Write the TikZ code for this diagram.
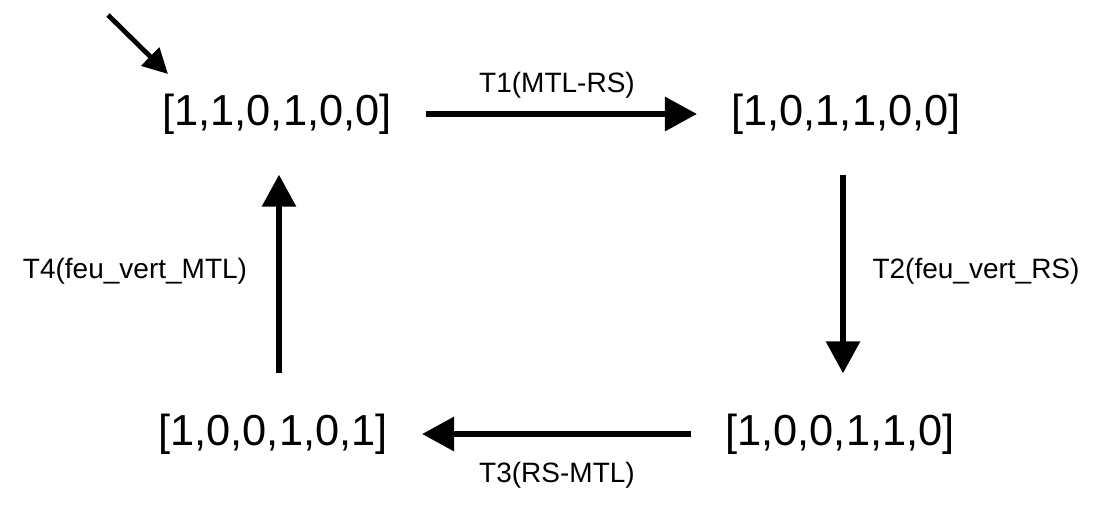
\documentclass[tikz,border=0pt]{standalone}
\usepackage{fontspec}
\setmainfont{Liberation Sans}
\usetikzlibrary{arrows.meta,positioning}

\begin{document}
\begin{tikzpicture}[x=0.5pt,y=-0.5pt,
      st/.style={font=\fontsize{21.7}{26}\selectfont,inner xsep=17pt,inner ysep=20pt},
      lbl/.style={font=\fontsize{14}{17}\selectfont,inner sep=0pt},
      tr/.style={line width=3pt,-{Triangle[length=16pt,width=16.5pt]}}]
    \useasboundingbox (0,0) rectangle (1097,521);
    % states
    \node[st] (s0) at (277,114) {[1,1,0,1,0,0]};
    \node[st] (s1) at (846,114) {[1,0,1,1,0,0]};
    \node[st] (s2) at (840,434) {[1,0,0,1,1,0]};
    \node[st] (s3) at (273,434) {[1,0,0,1,0,1]};
    % initial marker
    \coordinate (init) at (108,15);
    \coordinate (entry) at (168,74);
    \draw[line width=2.4pt,-{Triangle[length=12.5pt,width=12.5pt]}] (init) -- (entry);
    % transitions
    \draw[tr] (s0.east) -- (s1.west |- s0.east);
    \draw[tr] ([xshift=-1.5pt]s1.south) -- ([xshift=-1.5pt]s1.south |- s2.north);
    \draw[tr] (s2.west) -- (s3.east |- s2.west);
    \draw[tr] ([xshift=3pt]s3.north) -- ([xshift=3pt]s3.north |- s0.south);
    \node[lbl] (l1) at (557,85) {T1(MTL-RS)};
    \node[lbl] (l2) at (976,271) {T2(feu\_vert\_RS)};
    \node[lbl] (l3) at (557,475) {T3(RS-MTL)};
    \node[lbl] (l4) at (135,271) {T4(feu\_vert\_MTL)};
\end{tikzpicture}
\end{document}
